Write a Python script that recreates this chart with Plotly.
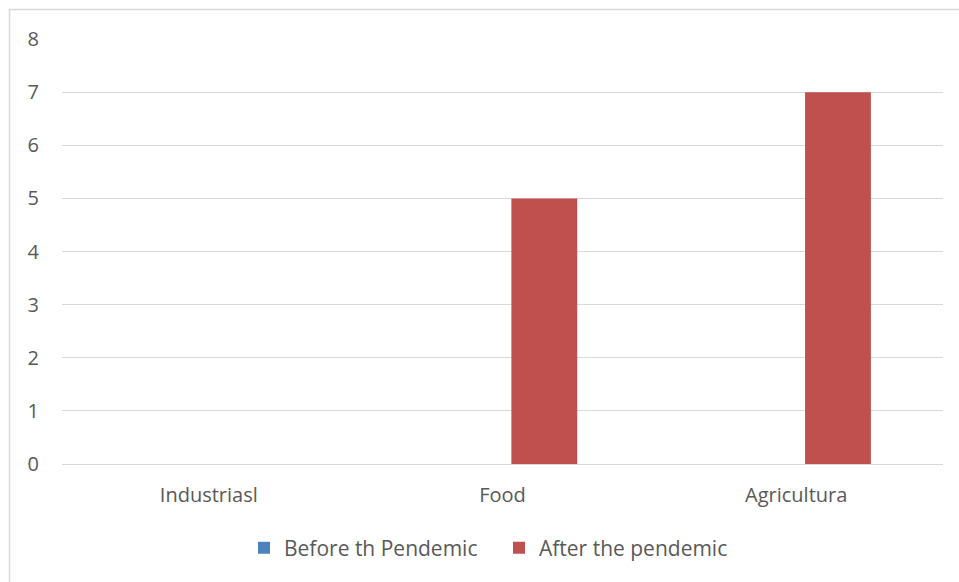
import plotly.graph_objects as go

categories = ["Industriasl", "Food", "Agricultura"]
before = [0, 0, 0]
after = [0, 5, 7]
y_ticks = [0, 1, 2, 3, 4, 5, 6, 7, 8]

W, H = 959, 582
L, R, T, B = 62, 16, 39, 118
pw = W - L - R
ph = H - T - B

font_family = "Open Sans, Liberation Sans, sans-serif"
txt = "#595959"
grid = "#d9d9d9"
FS = 20

fig = go.Figure()
fig.add_trace(go.Bar(name="Before th Pendemic", x=categories, y=before,
                     marker=dict(color="#4F81BD", line=dict(width=0))))
fig.add_trace(go.Bar(name="After the pendemic", x=categories, y=after,
                     marker=dict(color="#C0504D", line=dict(width=0))))

fig.update_layout(
    width=W, height=H,
    margin=dict(l=L, r=R, t=T, b=B, autoexpand=False),
    paper_bgcolor="white", plot_bgcolor="white",
    barmode="group", bargap=0.4305, bargroupgap=0.2126,
    font=dict(family=font_family, size=FS, color=txt),
    showlegend=True,
    legend=dict(orientation="h", x=(244 - L) / pw, xanchor="left",
                y=(464 - 548) / ph, yanchor="middle",
                entrywidth=210, entrywidthmode="pixels",
                font=dict(size=21, color=txt), itemwidth=30, traceorder="normal"),
    shapes=[dict(type="rect", xref="paper", yref="paper",
                 x0=(9.5 - L) / pw, x1=(W + 20 - L) / pw,
                 y0=(464 - (H + 20)) / ph, y1=(464 - 9.5) / ph,
                 line=dict(color=grid, width=1.5), fillcolor="rgba(0,0,0,0)", layer="below")],
)
fig.update_xaxes(showgrid=False, showline=False, zeroline=False, ticks="",
                 ticklabelstandoff=17, tickfont=dict(size=FS, color=txt))
fig.update_yaxes(range=[0, 8], tickvals=y_ticks, showgrid=True, gridcolor=grid, gridwidth=1.3,
                 zeroline=True, zerolinecolor=grid, zerolinewidth=1.3, showline=False,
                 ticks="", ticklabelstandoff=22, tickfont=dict(size=FS, color=txt))

fig.write_html("out.html", config={"displayModeBar": False},
               post_script="document.body.style.margin='0';")
